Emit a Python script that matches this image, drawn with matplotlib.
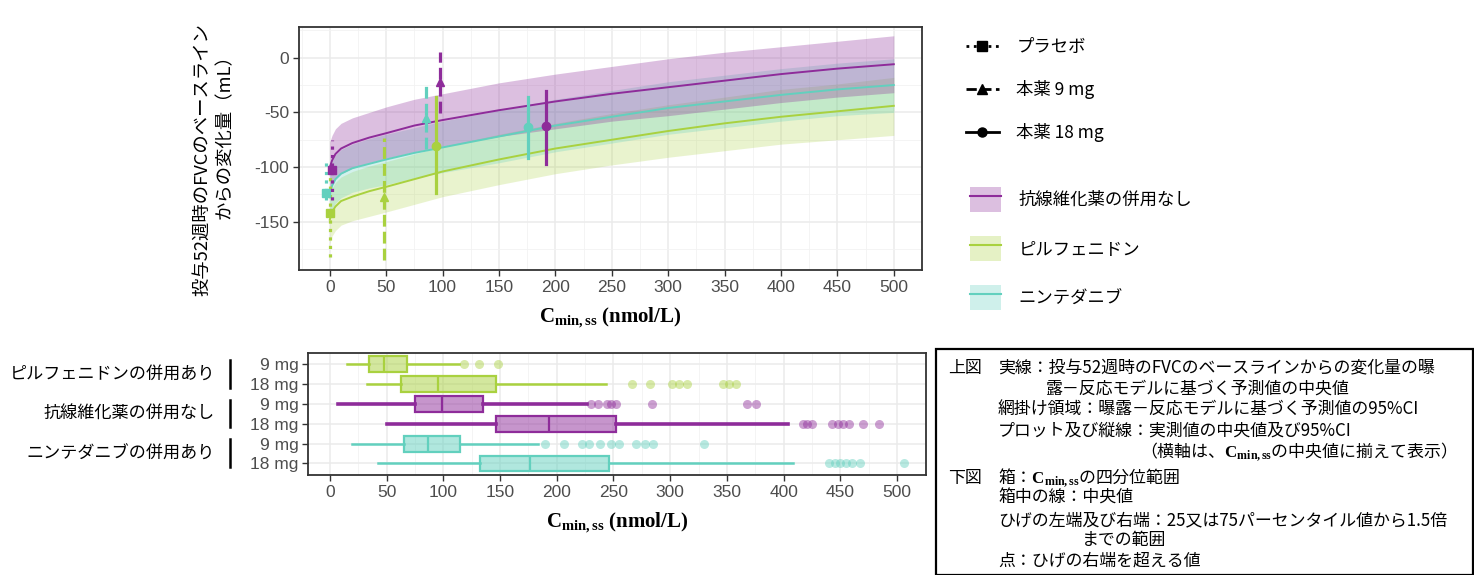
import numpy as np
import matplotlib
matplotlib.use('Agg')
import matplotlib.pyplot as plt
from matplotlib.lines import Line2D
from matplotlib.patches import Patch, Rectangle
import matplotlib.transforms as mtransforms

plt.rcParams['font.family'] = ['Liberation Sans', 'Noto Sans CJK JP', 'DejaVu Sans']
plt.rcParams['axes.unicode_minus'] = False
plt.rcParams['mathtext.fontset'] = 'custom'
plt.rcParams['mathtext.rm'] = 'Liberation Serif'
plt.rcParams['mathtext.it'] = 'Liberation Serif:italic'
plt.rcParams['mathtext.bf'] = 'Liberation Serif:bold'
JP = ['Noto Sans CJK JP', 'DejaVu Sans']

# ---------------- data ----------------
group_names = ['抗線維化薬の併用なし', 'ピルフェニドン', 'ニンテダニブ']
group_colors = ['#8E2C9A', '#A9D13F', '#62D0BE']

# model predictions (median and 95% CI) vs Cmin,ss
model_x = [0, 2, 5, 10, 20, 35, 50, 75, 100, 150, 200, 250, 300, 350, 400, 450, 500]
none_med = [-100, -94, -88, -83, -78, -73, -69, -62, -57, -48, -40, -33, -27, -21, -15, -10, -6]
none_hi = [-77, -71, -65, -60, -55, -50, -45, -38, -33, -23, -15, -8, -1, 5, 10, 15, 20]
none_lo = [-123, -117, -111, -106, -101, -96, -92, -86, -81, -72, -65, -58, -53, -47, -41, -36, -32]
pirf_med = [-148, -141, -136, -131, -127, -122, -118, -111, -104, -93, -83, -75, -67, -60, -54, -49, -44]
pirf_hi = [-126, -119, -114, -109, -104, -99, -95, -88, -81, -70, -60, -51, -43, -36, -29, -24, -18]
pirf_lo = [-170, -163, -158, -153, -149, -145, -141, -134, -127, -116, -106, -98, -91, -85, -79, -75, -71]
nint_med = [-124, -117, -111, -106, -101, -97, -93, -87, -82, -72, -62, -54, -46, -40, -34, -29, -25]
nint_hi = [-102, -95, -89, -84, -79, -74, -70, -64, -58, -48, -38, -30, -22, -16, -10, -5, -1]
nint_lo = [-146, -139, -133, -128, -123, -119, -116, -110, -105, -96, -86, -78, -70, -64, -58, -53, -50]

# observed medians and 95% CI (placebo, 9 mg, 18 mg)
dose_labels = ['プラセボ', '本薬 9 mg', '本薬 18 mg']
obs_none_x = [2, 98, 192]
obs_none_med = [-103, -22, -62]
obs_none_lo = [-130, -51, -97]
obs_none_hi = [-75, 5, -30]
obs_pirf_x = [0, 48, 94]
obs_pirf_med = [-142, -127, -81]
obs_pirf_lo = [-182, -185, -124]
obs_pirf_hi = [-100, -73, -36]
obs_nint_x = [-3, 85, 176]
obs_nint_med = [-124, -55, -63]
obs_nint_lo = [-130, -83, -92]
obs_nint_hi = [-95, -25, -36]

# box plot of Cmin,ss
box_group_labels = ['ピルフェニドンの併用あり', '抗線維化薬の併用なし', 'ニンテダニブの併用あり']
box_dose_labels = ['9 mg', '18 mg', '9 mg', '18 mg', '9 mg', '18 mg']
box_whislo = [15, 33, 7, 50, 19, 42]
box_q1 = [34, 63, 75, 146, 65, 132]
box_med = [48, 95, 99, 193, 86, 176]
box_q3 = [68, 146, 135, 252, 115, 246]
box_whishi = [114, 243, 227, 404, 183, 408]
box_fliers = [[118, 131, 148],
              [266, 282, 302, 308, 315, 347, 352, 358],
              [230, 236, 244, 248, 252, 284, 368, 376],
              [417, 421, 425, 443, 448, 452, 458, 470, 484],
              [190, 206, 222, 228, 238, 248, 255, 270, 278, 285, 330],
              [440, 445, 450, 455, 460, 467, 506]]

x_ticks = [0, 50, 100, 150, 200, 250, 300, 350, 400, 450, 500]
y_ticks = [0, -50, -100, -150]

# ---------------- figure ----------------
W, H = 1474, 575
fig = plt.figure(figsize=(W / 100, H / 100), dpi=100)

TICK_C = '#4D4D4D'
GRID_C = '#EBEBEB'


def style_axes(ax):
    for s in ax.spines.values():
        s.set_color('#333333')
        s.set_linewidth(1.3)
    ax.tick_params(axis='both', length=4, width=1, color='#333333',
                   labelcolor=TICK_C, labelsize=12.5, pad=3)
    ax.set_axisbelow(True)


# top panel
ax1 = fig.add_axes([299 / W, 1 - 270 / H, 623 / W, 243.3 / H])
style_axes(ax1)
ax1.set_xlim(-27.3, 522)
ax1.set_ylim(-194, 28.3)
ax1.set_xticks(x_ticks)
ax1.set_yticks(y_ticks)
ax1.set_xticks([-25] + [25 + 50 * i for i in range(10)] + [525], minor=True)
ax1.set_yticks([25, -25, -75, -125, -175], minor=True)
ax1.tick_params(which='minor', length=0)
ax1.grid(True, which='major', color=GRID_C, lw=1.1)
ax1.grid(True, which='minor', color='#F2F2F2', lw=0.6)

model = [(pirf_med, pirf_lo, pirf_hi, group_colors[1], 0.25),
         (nint_med, nint_lo, nint_hi, group_colors[2], 0.28),
         (none_med, none_lo, none_hi, group_colors[0], 0.3)]
for med, lo, hi, c, a in model:
    ax1.fill_between(model_x, lo, hi, color=c, alpha=a, lw=0)
for med, lo, hi, c, a in model:
    ax1.plot(model_x, med, color=c, lw=1.4)

obs = [(obs_pirf_x, obs_pirf_med, obs_pirf_lo, obs_pirf_hi, group_colors[1]),
       (obs_nint_x, obs_nint_med, obs_nint_lo, obs_nint_hi, group_colors[2]),
       (obs_none_x, obs_none_med, obs_none_lo, obs_none_hi, group_colors[0])]
styles = [(':', 's'), ('--', '^'), ('-', 'o')]
for xs, meds, los, his, c in obs:
    for i, (ls, mk) in enumerate(styles):
        ax1.plot([xs[i], xs[i]], [los[i], his[i]], color=c, ls=ls, lw=2.3)
        ax1.plot([xs[i]], [meds[i]], color=c, marker=mk, ms=6, ls='none')

ax1.set_xlabel(r'$\mathbf{C}_{\mathbf{min,ss}}$ (nmol/L)', family='Liberation Serif',
               weight='bold', fontsize=15, labelpad=8)
fig.text(202 / W, 1 - 160 / H, '投与52週時のFVCのベースライン', rotation=90,
         ha='center', va='center', family=JP, fontsize=13.2)
fig.text(225 / W, 1 - 132 / H, 'からの変化量（mL）', rotation=90,
         ha='center', va='center', family=JP, fontsize=13.2)

# bottom panel
ax2 = fig.add_axes([308 / W, 1 - 475 / H, 618 / W, 122.3 / H])
style_axes(ax2)
positions = [6, 5, 4, 3, 2, 1]
stats = []
for i in range(6):
    stats.append(dict(whislo=box_whislo[i], q1=box_q1[i], med=box_med[i],
                      q3=box_q3[i], whishi=box_whishi[i], fliers=box_fliers[i]))
row_colors = [group_colors[1], group_colors[1], group_colors[0], group_colors[0],
              group_colors[2], group_colors[2]]
for i in range(6):
    c = row_colors[i]
    wl = 2.6 if c == group_colors[0] else 1.8
    ax2.bxp([stats[i]], positions=[positions[i]], widths=0.8, orientation='horizontal',
            patch_artist=True, showcaps=False,
            boxprops=dict(facecolor=matplotlib.colors.to_rgba(c, 0.5), edgecolor=c, lw=1.6),
            medianprops=dict(color=c, lw=1.6),
            whiskerprops=dict(color=c, lw=wl),
            flierprops=dict(marker='o', markerfacecolor=matplotlib.colors.to_rgba(c, 0.45),
                            markeredgecolor='none', markersize=6.5))
ax2.set_xlim(-19.4, 525.6)
ax2.set_ylim(0.42, 6.58)
ax2.set_yticks(positions)
ax2.set_yticklabels(box_dose_labels)
ax2.set_xticks(x_ticks)
ax2.set_xticklabels([str(v) for v in x_ticks])
ax2.set_xticks([25 + 50 * i for i in range(10)], minor=True)
ax2.tick_params(which='minor', length=0)
ax2.grid(True, which='major', color=GRID_C, lw=1.1)
ax2.grid(True, which='minor', axis='x', color='#F2F2F2', lw=0.6)
ax2.set_xlabel(r'$\mathbf{C}_{\mathbf{min,ss}}$ (nmol/L)', family='Liberation Serif',
               weight='bold', fontsize=15, labelpad=8)

trans = mtransforms.blended_transform_factory(fig.transFigure, ax2.transData)
for j, lab in enumerate(box_group_labels):
    yc = positions[2 * j] - 0.5
    ax2.text(215 / W, yc, lab, transform=trans, ha='right', va='center',
             family=JP, fontsize=12.3, clip_on=False)
    ax2.plot([230 / W, 230 / W], [yc + 0.72, yc - 0.68], transform=trans,
             color='black', lw=1.8, clip_on=False)

# legends
h1 = [Line2D([], [], color='black', ls=':', lw=2, marker='s', ms=6.5),
      Line2D([], [], color='black', ls='--', lw=2, marker='^', ms=6.5),
      Line2D([], [], color='black', ls='-', lw=2, marker='o', ms=6.5)]
leg1 = fig.legend(h1, dose_labels, loc='upper left', bbox_to_anchor=(966 / W, 1 - 38 / H),
                  frameon=False, prop={'family': JP, 'size': 12.5}, handlelength=1.9,
                  handletextpad=1.0, labelspacing=1.38, borderpad=0, borderaxespad=0)
h2 = [(Patch(facecolor=c, alpha=0.3, lw=0), Line2D([], [], color=c, lw=1.5))
      for c in group_colors]
leg2 = fig.legend(h2, group_names, loc='upper left', bbox_to_anchor=(970 / W, 1 - 187 / H),
                  frameon=False, prop={'family': JP, 'size': 12.5}, handlelength=1.8,
                  handleheight=1.8, handletextpad=1.0, labelspacing=1.42, borderpad=0,
                  borderaxespad=0)

# explanation box
fig.add_artist(Rectangle((936 / W, 0), 0.999 - 936 / W, 1 - 349 / H, transform=fig.transFigure,
                         fill=False, edgecolor='black', lw=1.6, clip_on=False))
cm = r'$\mathbf{C}_{\mathbf{min,ss}}$'
box_lines = [
    (948, 368, '上図', 'left'),
    (998, 368, '実線：投与52週時のFVCのベースラインからの変化量の曝', 'left'),
    (1045, 389, '露－反応モデルに基づく予測値の中央値', 'left'),
    (998, 410, '網掛け領域：曝露－反応モデルに基づく予測値の95%CI', 'left'),
    (998, 431, 'プロット及び縦線：実測値の中央値及び95%CI', 'left'),
    (1447, 452, '（横軸は、' + cm + 'の中央値に揃えて表示）', 'right'),
    (948, 478, '下図', 'left'),
    (998, 478, '箱：' + cm + 'の四分位範囲', 'left'),
    (998, 498, '箱中の線：中央値', 'left'),
    (998, 520, 'ひげの左端及び右端：25又は75パーセンタイル値から1.5倍', 'left'),
    (1082, 540, 'までの範囲', 'left'),
    (998, 561, '点：ひげの右端を超える値', 'left'),
]
for x, y, s, ha in box_lines:
    fig.text(x / W, 1 - y / H, s, ha=ha, va='center', family=JP, fontsize=12.2)

fig.savefig('out.png', dpi=100)
